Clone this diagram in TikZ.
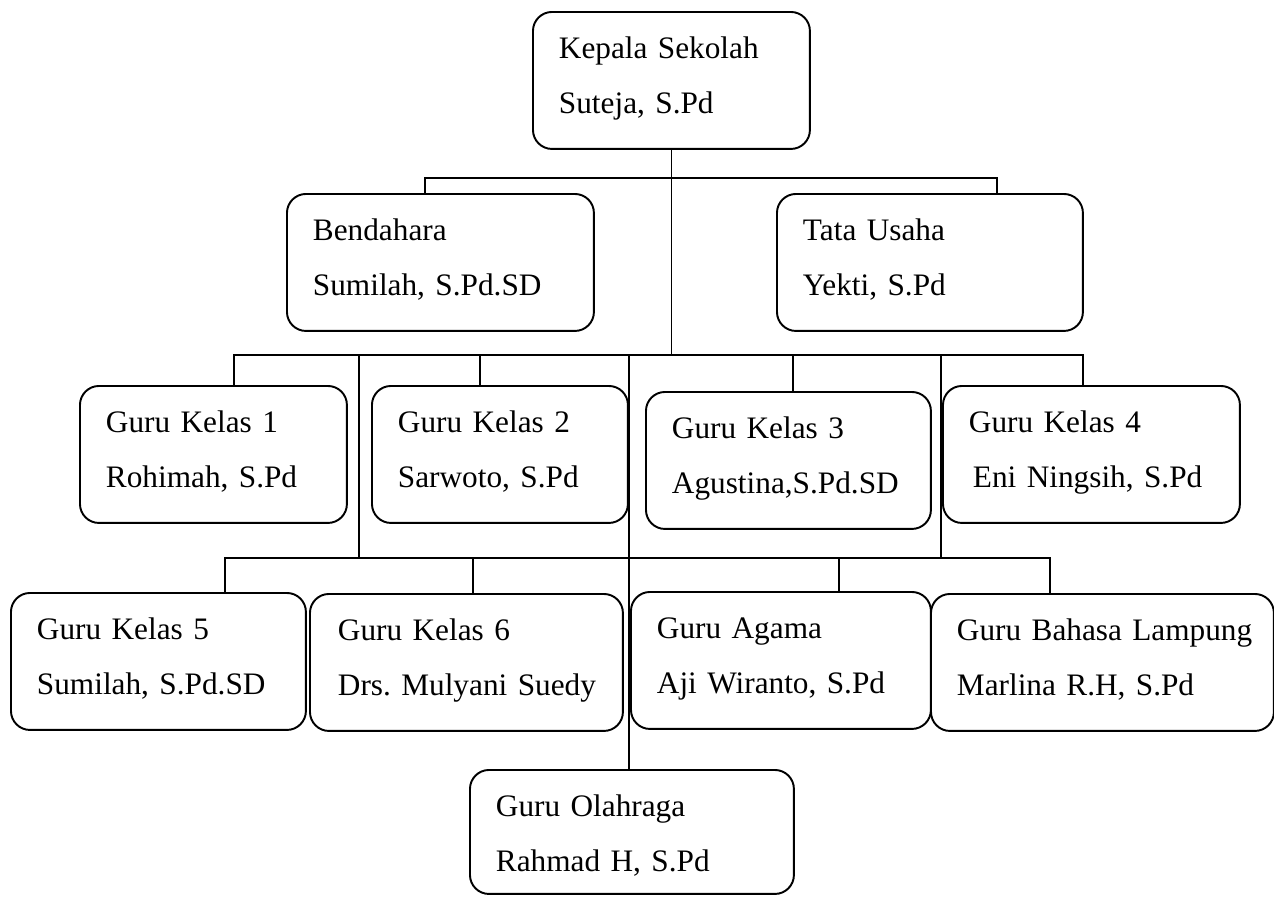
\documentclass[tikz,border=0pt]{standalone}
\usepackage{fontspec}
\setmainfont{Liberation Serif}
\usetikzlibrary{positioning,calc}
\frenchspacing
\tikzset{orgbox/.style={draw, line width=1.1pt, rounded corners=0.38cm, anchor=north west, align=left, inner ysep=0pt, inner xsep=0.52cm, text height=0.94cm, text depth=1.80cm, font=\fontsize{17.8}{31.3}\selectfont}}
\tikzset{link/.style={draw, line width=0.8pt}}
\begin{document}
\begin{tikzpicture}[x=0.02cm, y=-0.02cm]
	\useasboundingbox (0,0) rectangle (1274,896);
	% top
	\node[orgbox, text width=4.50cm] (kepala) at (532,11) {Kepala Sekolah\\Suteja, S.Pd};
	\node[orgbox, text width=5.10cm] (bendahara) at (286,193) {Bendahara\\Sumilah, S.Pd.SD};
	\node[orgbox, text width=5.08cm] (tatausaha) at (776,193) {Tata Usaha\\Yekti, S.Pd};
	% guru kelas 1-4
	\node[orgbox, text width=4.30cm] (kelas1) at (79,385) {Guru Kelas 1\\Rohimah, S.Pd};
	\node[orgbox, text width=4.08cm] (kelas2) at (371,385) {Guru Kelas 2\\Sarwoto, S.Pd};
	\node[orgbox, text width=4.66cm] (kelas3) at (645,391) {Guru Kelas 3\\Agustina,S.Pd.SD};
	\node[orgbox, text width=4.90cm] (kelas4) at (942,385) {Guru Kelas 4\\\hspace{0.08cm}Eni Ningsih, S.Pd};
	% guru kelas 5-6, agama, bahasa
	\node[orgbox, text width=4.86cm] (kelas5) at (10,592) {Guru Kelas 5\\Sumilah, S.Pd.SD};
	\node[orgbox, inner xsep=0.56cm, text width=5.14cm] (kelas6) at (309,593) {Guru Kelas 6\\\mbox{Drs. Mulyani Suedy}};
	\node[orgbox, text width=4.96cm] (agama) at (630,591) {Guru Agama\\Aji Wiranto, S.Pd};
	\node[orgbox, text width=5.82cm] (lampung) at (930,593) {\mbox{Guru Bahasa Lampung}\\Marlina R.H, S.Pd};
	\node[orgbox, text width=5.44cm, text depth=1.54cm] (olahraga) at (469,769) {Guru Olahraga\\Rahmad H, S.Pd};
	%
	\coordinate (b1l) at (425,178);
	\coordinate (b1r) at (997,178);
	\coordinate (b2l) at (234,355);
	\coordinate (b2r) at (1083,355);
	\coordinate (b3l) at (225,558);
	\coordinate (b3r) at (1050,558);
	%
	\draw[link] (kepala.south) -- (kepala.south |- b2l);
	\draw[link] (b1l |- bendahara.north) -- (b1l) -- (b1r) -- (b1r |- tatausaha.north);
	\draw[link] (b2l |- kelas1.north) -- (b2l) -- (b2r) -- (b2r |- kelas4.north);
	\foreach \x/\n in {480/kelas2, 793/kelas3}
		\draw[link] (\x,355) -- (\x,0 |- \n.north);
	\foreach \x in {359,941}
		\draw[link] (\x,355) -- (\x,558);
	\draw[link] (629,355) -- (629,0 |- olahraga.north);
	\draw[link] (b3l |- kelas5.north) -- (b3l) -- (b3r) -- (b3r |- lampung.north);
	\foreach \x/\n in {473/kelas6, 839/agama}
		\draw[link] (\x,558) -- (\x,0 |- \n.north);
\end{tikzpicture}
\end{document}
